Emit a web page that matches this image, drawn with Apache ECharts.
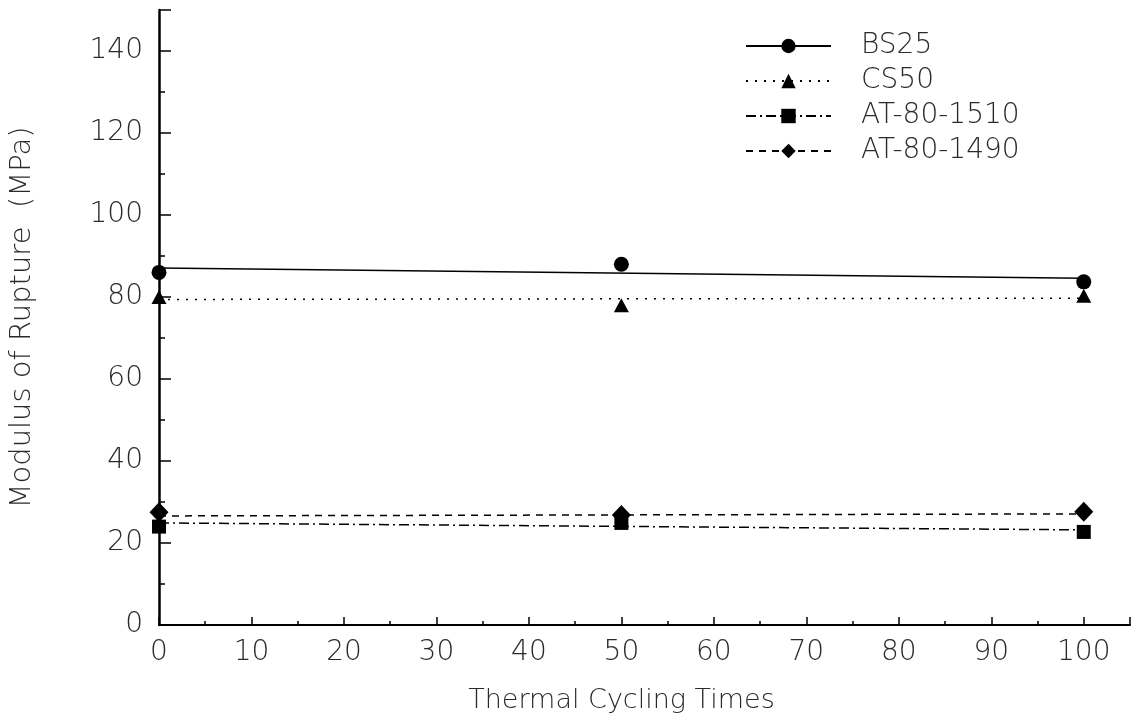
<!DOCTYPE html>
<html>
<head>
<meta charset="utf-8">
<title>Modulus of Rupture vs Thermal Cycling Times</title>
<script src="https://cdn.jsdelivr.net/npm/echarts@6/dist/echarts.min.js"></script>
<style>
    html, body { margin: 0; padding: 0; background: #fff; }
    #chart { width: 1131px; height: 725px; }
</style>
</head>
<body>
<div id="chart"></div>
<script>
    // 数据：测量点与拟合直线
    var names = ["BS25", "CS50", "AT-80-1510", "AT-80-1490"];
    var cycles = [0, 50, 100];

    var bs25Points = [86, 88, 83.7];
    var cs50Points = [80, 78, 80.3];
    var at1510Points = [24, 24.9, 22.7];
    var at1490Points = [27.5, 26.8, 27.6];

    // 拟合线两端 (0 次, 100 次)
    var fitEnds = [0, 100];
    var bs25Fit = [87.1, 84.6];
    var cs50Fit = [79.4, 79.7];
    var at1510Fit = [24.9, 23.2];
    var at1490Fit = [26.6, 27.1];

    var yTicks = { min: 0, max: 150, interval: 20 };
    var xTicks = { min: 0, max: 105, interval: 10 };

    var font = "DejaVu Sans";
    var ink = "#2a2a2a";

    var pairs = function(xs, ys){
        var out = [];
        for(var i = 0; i < xs.length; i++){
            out.push([xs[i], ys[i]]);
        }
        return out;
    };

    var textStyle = function(size, extra){
        var s = { fontFamily: font, fontWeight: 200, fontSize: size, color: ink };
        for(var k in extra){ s[k] = extra[k]; }
        return s;
    };

    var styles = [
        { symbol: "circle",   size: 15,       line: "solid" },
        { symbol: "triangle", size: [15, 14], line: [2, 7] },
        { symbol: "rect",     size: 14,       line: [10, 4, 2, 4] },
        { symbol: "diamond",  size: [19, 20], line: [7, 6] }
    ];
    var points = [bs25Points, cs50Points, at1510Points, at1490Points];
    var fits = [bs25Fit, cs50Fit, at1510Fit, at1490Fit];

    var series = [];
    // 拟合线（图例取自这些系列）
    for(var i = 0; i < names.length; i++){
        series.push({
            name: names[i],
            type: "line",
            data: pairs(fitEnds, fits[i]),
            symbol: styles[i].symbol,
            showSymbol: false,
            silent: true,
            lineStyle: { color: "#000", width: 1.5, type: styles[i].line },
            itemStyle: { color: "#000" },
            z: 2
        });
    }
    // 测量点
    for(var j = 0; j < names.length; j++){
        series.push({
            name: names[j] + " data",
            type: "scatter",
            data: pairs(cycles, points[j]),
            symbol: styles[j].symbol,
            symbolSize: styles[j].size,
            itemStyle: { color: "#000", opacity: 1 },
            z: 3
        });
    }

    var chart = echarts.init(document.getElementById("chart"));
    chart.setOption({
        backgroundColor: "#fff",
        animation: false,
        grid: { left: 159, top: 10, right: 1, bottom: 100 },
        legend: {
            data: names,
            orient: "vertical",
            left: 745,
            top: 32,
            padding: 0,
            itemWidth: 85,
            itemHeight: 18,
            itemGap: 7,
            textStyle: textStyle(28, { padding: [0, 0, 0, 25] })
        },
        xAxis: {
            type: "value",
            min: xTicks.min,
            max: xTicks.max,
            interval: xTicks.interval,
            name: "Thermal Cycling Times",
            nameLocation: "middle",
            nameGap: 62,
            nameTextStyle: textStyle(27, { padding: [0, 46, 0, 0] }),
            axisLine: { lineStyle: { color: "#000", width: 2 } },
            axisTick: { inside: true, length: 8, lineStyle: { color: "#000", width: 1.5 } },
            minorTick: { show: true, splitNumber: 2, length: 4, lineStyle: { color: "#000", width: 1.5 } },
            splitLine: { show: false },
            axisLabel: textStyle(28, { showMaxLabel: false, margin: 14 })
        },
        yAxis: {
            type: "value",
            min: yTicks.min,
            max: yTicks.max,
            interval: yTicks.interval,
            name: "Modulus of Rupture  (MPa)",
            nameLocation: "middle",
            nameGap: 122,
            nameTextStyle: textStyle(29),
            axisLine: { lineStyle: { color: "#000", width: 2.5 } },
            axisTick: { inside: true, length: 12, lineStyle: { color: "#000", width: 1.5 } },
            minorTick: { show: true, splitNumber: 2, length: 6, lineStyle: { color: "#000", width: 1.5 } },
            splitLine: { show: false },
            axisLabel: textStyle(28, { showMaxLabel: false, margin: 16 })
        },
        series: series
    });
</script>
</body>
</html>
